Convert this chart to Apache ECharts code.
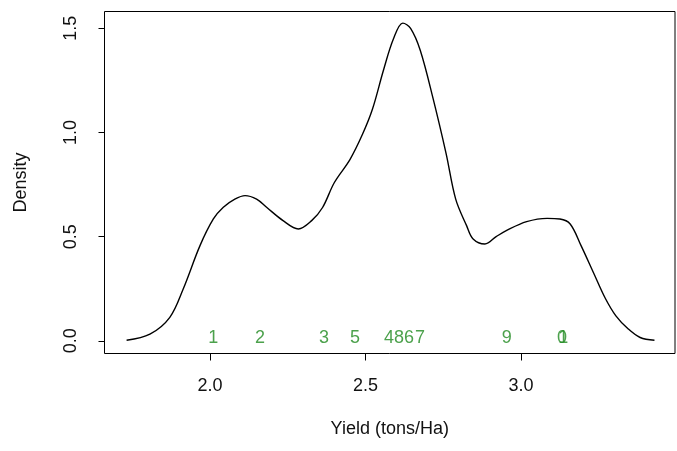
<!DOCTYPE html>
<html>
<head>
<meta charset="utf-8">
<script src="https://cdn.jsdelivr.net/npm/echarts@6/dist/echarts.min.js"></script>
<style>html,body{margin:0;padding:0;background:#fff}#c{width:677px;height:451px}</style>
</head>
<body>
<div id="c"></div>
<script>
// Density curve (x = yield, y = density)
const curveX = [1.732,1.807,1.871,1.914,1.968,2.011,2.043,2.080,2.113,2.150,2.182,2.235,2.284,2.327,2.362,2.400,2.450,2.490,2.522,2.558,2.590,2.620,2.645,2.676,2.717,2.759,2.790,2.825,2.846,2.884,2.920,2.954,3.018,3.084,3.125,3.158,3.193,3.233,3.270,3.305,3.344,3.383,3.429];
const curveY = [0.003,0.032,0.113,0.249,0.457,0.585,0.641,0.680,0.697,0.680,0.641,0.577,0.537,0.577,0.640,0.760,0.870,0.990,1.110,1.300,1.450,1.525,1.500,1.395,1.165,0.900,0.680,0.553,0.489,0.465,0.500,0.530,0.572,0.588,0.585,0.561,0.457,0.327,0.207,0.120,0.058,0.016,0.003];
// Observation labels (rug text) along y = 0
const obsX = [2.011,2.161,2.367,2.576,2.466,2.640,2.675,2.608,2.954,3.132,3.136];
const obsText = ['1','2','3','4','5','6','7','8','9','0','1'];
// Tick labels
const xTicks = [2.0,2.5,3.0];
const yTicks = [0.0,0.5,1.0,1.5];

const font = 'Liberation Sans, Arial, sans-serif';
const chart = echarts.init(document.getElementById('c'), null, {renderer:'canvas'});
chart.setOption({
  animation:false,
  backgroundColor:'#fff',
  grid:{left:104.5,right:2,top:11.5,bottom:97.5,show:true,borderColor:'#000',borderWidth:1,backgroundColor:'transparent'},
  xAxis:{
    type:'value',min:1.661,max:3.495,
    name:'Yield (tons/Ha)',nameLocation:'middle',nameGap:67,
    nameTextStyle:{fontFamily:font,fontSize:18,color:'#111'},
    axisLine:{show:false,onZero:false},splitLine:{show:false},
    axisTick:{show:true,customValues:xTicks,length:7,inside:false,lineStyle:{color:'#000',width:1}},
    axisLabel:{customValues:xTicks,formatter:v=>v.toFixed(1),margin:24,fontFamily:font,fontSize:18,color:'#111'}
  },
  yAxis:{
    type:'value',min:-0.0608,max:1.5808,
    name:'Density',nameLocation:'middle',nameGap:74,nameRotate:90,
    nameTextStyle:{fontFamily:font,fontSize:18,color:'#111'},
    axisLine:{show:false,onZero:false},splitLine:{show:false},
    axisTick:{show:true,customValues:yTicks,length:6,inside:false,lineStyle:{color:'#000',width:1}},
    axisLabel:{customValues:yTicks,rotate:90,formatter:v=>v.toFixed(1),margin:24,fontFamily:font,fontSize:18,color:'#111'}
  },
  series:[
    {type:'line',data:curveX.map((x,i)=>[x,curveY[i]]),smooth:0.35,showSymbol:false,
     lineStyle:{color:'#000',width:1.4}},
    {type:'scatter',data:obsX.map((x,i)=>[x,0.012,obsText[i]]),symbolSize:0,
     label:{show:true,position:'inside',formatter:p=>p.data[2],color:'#1f8a1f',fontFamily:font,fontSize:18}}
  ]
});
</script>
</body>
</html>
